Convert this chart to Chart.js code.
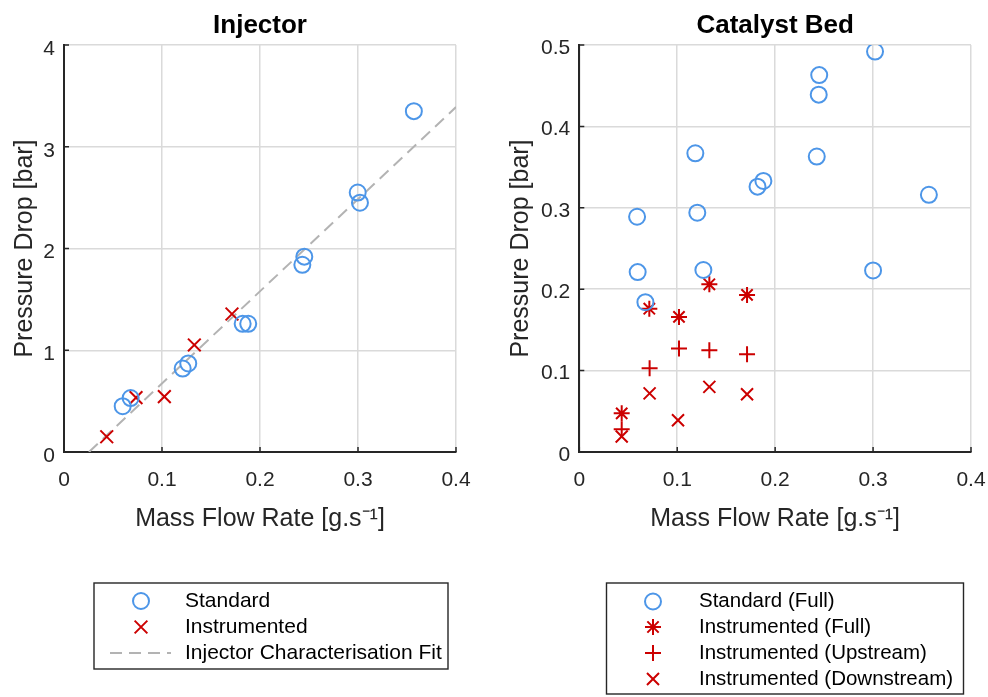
<!DOCTYPE html>
<html><head><meta charset="utf-8">
<script src="https://cdn.jsdelivr.net/npm/chart.js@4/dist/chart.umd.min.js"></script>
<style>
html,body{margin:0;padding:0;background:#fff;}
#wrap{position:relative;width:988px;height:697px;overflow:hidden;}
canvas{position:absolute;top:0;}
</style>
</head><body>
<div id="wrap">
<canvas id="c1" width="494" height="697" style="left:0"></canvas>
<canvas id="c2" width="494" height="697" style="left:494px"></canvas>
</div>
<script>
// ---------- data ----------
const injectorStdX = [0.357, 0.2997, 0.302, 0.2452, 0.2432, 0.1823, 0.188, 0.1268, 0.1211, 0.068, 0.0599];
const injectorStdY = [3.35, 2.55, 2.45, 1.92, 1.84, 1.26, 1.26, 0.87, 0.82, 0.53, 0.45];
const injectorInstX = [0.0436, 0.0735, 0.1024, 0.133, 0.1714];
const injectorInstY = [0.15, 0.534, 0.544, 1.052, 1.356];
const injectorFitX = [0.0255, 0.4];
const injectorFitY = [0, 3.39];

const catStdX = [0.302, 0.245, 0.2445, 0.2425, 0.1185, 0.188, 0.182, 0.357, 0.059, 0.1205, 0.0596, 0.1267, 0.300, 0.0675];
const catStdY = [0.492, 0.463, 0.439, 0.363, 0.367, 0.333, 0.326, 0.316, 0.289, 0.294, 0.221, 0.2236, 0.223, 0.184];
const catFullX = [0.1328, 0.1713, 0.0715, 0.1018, 0.0433];
const catFullY = [0.206, 0.193, 0.176, 0.166, 0.0475];
const catUpX = [0.1018, 0.1328, 0.1713, 0.0718, 0.0433];
const catUpY = [0.127, 0.125, 0.120, 0.103, 0.028];
const catDownX = [0.1328, 0.0718, 0.1713, 0.1008, 0.0433];
const catDownY = [0.080, 0.072, 0.071, 0.039, 0.019];

const xTicks = [0, 0.1, 0.2, 0.3, 0.4];
const injectorYTicks = [0, 1, 2, 3, 4];
const catYTicks = [0, 0.1, 0.2, 0.3, 0.4, 0.5];

const injectorLabels = ['Standard', 'Instrumented', 'Injector Characterisation Fit'];
const catLabels = ['Standard (Full)', 'Instrumented (Full)', 'Instrumented (Upstream)', 'Instrumented (Downstream)'];

// ---------- styling ----------
const FONT = "'Liberation Sans', Arial, Helvetica, sans-serif";
const BLUE = '#4d96e8';
const RED = '#cc0000';
const AX = '#262626';
const GRID = '#dadada';

function pts(xs, ys) { return xs.map((x, i) => ({ x: x, y: ys[i] })); }
function fmt(v) { return String(Number(v.toFixed(2))); }

function drawMarker(ctx, style, x, y, r, color, lw) {
  ctx.save();
  ctx.strokeStyle = color; ctx.lineWidth = lw; ctx.lineCap = 'butt';
  ctx.beginPath();
  const d = r * Math.SQRT1_2;
  if (style === 'circle') {
    ctx.arc(x, y, r, 0, Math.PI * 2);
  } else if (style === 'crossRot') {
    ctx.moveTo(x - d, y - d); ctx.lineTo(x + d, y + d);
    ctx.moveTo(x + d, y - d); ctx.lineTo(x - d, y + d);
  } else if (style === 'cross') {
    ctx.moveTo(x - r, y); ctx.lineTo(x + r, y);
    ctx.moveTo(x, y - r); ctx.lineTo(x, y + r);
  } else if (style === 'star') {
    ctx.moveTo(x - r, y); ctx.lineTo(x + r, y);
    ctx.moveTo(x, y - r); ctx.lineTo(x, y + r);
    ctx.moveTo(x - d, y - d); ctx.lineTo(x + d, y + d);
    ctx.moveTo(x + d, y - d); ctx.lineTo(x - d, y + d);
  }
  ctx.stroke();
  ctx.restore();
}

const boxLegend = {
  id: 'boxLegend',
  afterDraw(chart, args, o) {
    const ctx = chart.ctx;
    ctx.save();
    ctx.fillStyle = '#fff';
    ctx.fillRect(o.x, o.y, o.w, o.h);
    ctx.strokeStyle = AX; ctx.lineWidth = 1.4;
    ctx.strokeRect(o.x, o.y, o.w, o.h);
    ctx.font = o.fontSize + 'px ' + FONT;
    ctx.fillStyle = '#000';
    ctx.textBaseline = 'middle';
    ctx.textAlign = 'left';
    chart.data.datasets.forEach((ds, i) => {
      const y = o.rowY[i];
      if (ds.showLine) {
        ctx.save();
        ctx.strokeStyle = ds.borderColor; ctx.lineWidth = ds.borderWidth;
        ctx.setLineDash(ds.borderDash);
        ctx.beginPath(); ctx.moveTo(o.lineX0, y); ctx.lineTo(o.lineX1, y); ctx.stroke();
        ctx.restore();
      } else {
        drawMarker(ctx, ds.pointStyle, o.symbolX, y, ds.pointRadius, ds.borderColor, ds.pointBorderWidth);
      }
      ctx.fillText(ds.label, o.textX, y);
    });
    ctx.restore();
  }
};

const innerTicks = {
  id: 'innerTicks',
  afterDatasetsDraw(chart) {
    const ctx = chart.ctx, xs = chart.scales.x, ys = chart.scales.y, a = chart.chartArea;
    ctx.save();
    ctx.strokeStyle = AX; ctx.lineWidth = 1.5;
    ctx.beginPath();
    xs.ticks.forEach(t => { const px = xs.getPixelForValue(t.value); ctx.moveTo(px, a.bottom); ctx.lineTo(px, a.bottom - 5); });
    ys.ticks.forEach(t => { const py = ys.getPixelForValue(t.value); ctx.moveTo(a.left, py); ctx.lineTo(a.left + 5, py); });
    ctx.stroke();
    ctx.restore();
  }
};

function scatterSet(label, data, style, radius, width) {
  return { label: label, data: data, showLine: false, pointStyle: style, pointRadius: radius,
    pointBorderWidth: width, borderColor: style === 'circle' ? BLUE : RED, pointBorderColor: style === 'circle' ? BLUE : RED,
    backgroundColor: 'rgba(0,0,0,0)', pointBackgroundColor: 'rgba(0,0,0,0)' };
}

function makeOptions(title, yMax, yStep, yTicks, yAxisWidth, yTitlePad, rightPad, yLabelOffset, legendOpts) {
  return {
    responsive: false, animation: false, events: [],
    layout: { padding: { left: 0, right: rightPad, top: 0, bottom: 155 } },
    plugins: {
      legend: { display: false }, tooltip: { enabled: false },
      title: { display: true, fullSize: false, text: title, color: '#000', font: { family: FONT, size: 26, weight: 'bold' }, padding: { top: 10.4, bottom: 3.4 } },
      boxLegend: legendOpts
    },
    scales: {
      x: {
        type: 'linear', min: 0, max: 0.4,
        afterFit: s => { s.height = 90; },
        afterBuildTicks: s => { s.ticks = xTicks.map(v => ({ value: v })); },
        ticks: { stepSize: 0.1, padding: 0, color: AX, font: { family: FONT, size: 21 }, callback: v => fmt(v), maxRotation: 0, autoSkip: false },
        grid: { color: GRID, lineWidth: 1.5, drawTicks: true, tickLength: 16, tickColor: 'rgba(0,0,0,0)' },
        border: { display: true, color: AX, width: 2 },
        title: { display: true, text: 'Mass Flow Rate [g.s⁻¹]', color: AX, font: { family: FONT, size: 25 }, padding: { top: 0, bottom: 8 } }
      },
      y: {
        type: 'linear', min: 0, max: yMax,
        afterFit: s => { s.width = yAxisWidth; },
        afterBuildTicks: s => { s.ticks = yTicks.map(v => ({ value: v })); },
        ticks: { stepSize: yStep, padding: 9, labelOffset: yLabelOffset, color: AX, font: { family: FONT, size: 21 }, callback: v => fmt(v), autoSkip: false },
        grid: { color: GRID, lineWidth: 1.5, drawTicks: false },
        border: { display: true, color: AX, width: 2 },
        title: { display: true, text: 'Pressure Drop [bar]', color: AX, font: { family: FONT, size: 25 }, padding: { top: yTitlePad, bottom: 0 } }
      }
    }
  };
}

new Chart(document.getElementById('c1'), {
  type: 'scatter',
  data: {
    datasets: [
      scatterSet(injectorLabels[0], pts(injectorStdX, injectorStdY), 'circle', 8, 2),
      scatterSet(injectorLabels[1], pts(injectorInstX, injectorInstY), 'crossRot', 9, 2),
      { label: injectorLabels[2], data: pts(injectorFitX, injectorFitY), showLine: true, pointRadius: 0,
        borderColor: '#b3b3b3', borderWidth: 2, borderDash: [12, 7], backgroundColor: 'rgba(0,0,0,0)', order: 5 }
    ]
  },
  options: makeOptions('Injector', 4, 1, injectorYTicks, 64, 10, 38, 4,
    { x: 94, y: 583, w: 354, h: 86, symbolX: 141, textX: 185, lineX0: 110, lineX1: 171, rowY: [601, 627, 653], fontSize: 21 }),
  plugins: [innerTicks, boxLegend]
});

new Chart(document.getElementById('c2'), {
  type: 'scatter',
  data: {
    datasets: [
      scatterSet(catLabels[0], pts(catStdX, catStdY), 'circle', 8, 2),
      scatterSet(catLabels[1], pts(catFullX, catFullY), 'star', 8, 2),
      scatterSet(catLabels[2], pts(catUpX, catUpY), 'cross', 8, 2),
      scatterSet(catLabels[3], pts(catDownX, catDownY), 'crossRot', 8.5, 2)
    ]
  },
  options: makeOptions('Catalyst Bed', 0.5, 0.1, catYTicks, 85.3, 12.5, 17, 3,
    { x: 112.5, y: 583, w: 357, h: 111, symbolX: 159, textX: 205, lineX0: 0, lineX1: 0, rowY: [601.5, 627, 653, 679], fontSize: 20.5 }),
  plugins: [innerTicks, boxLegend]
});
</script>
</body></html>
